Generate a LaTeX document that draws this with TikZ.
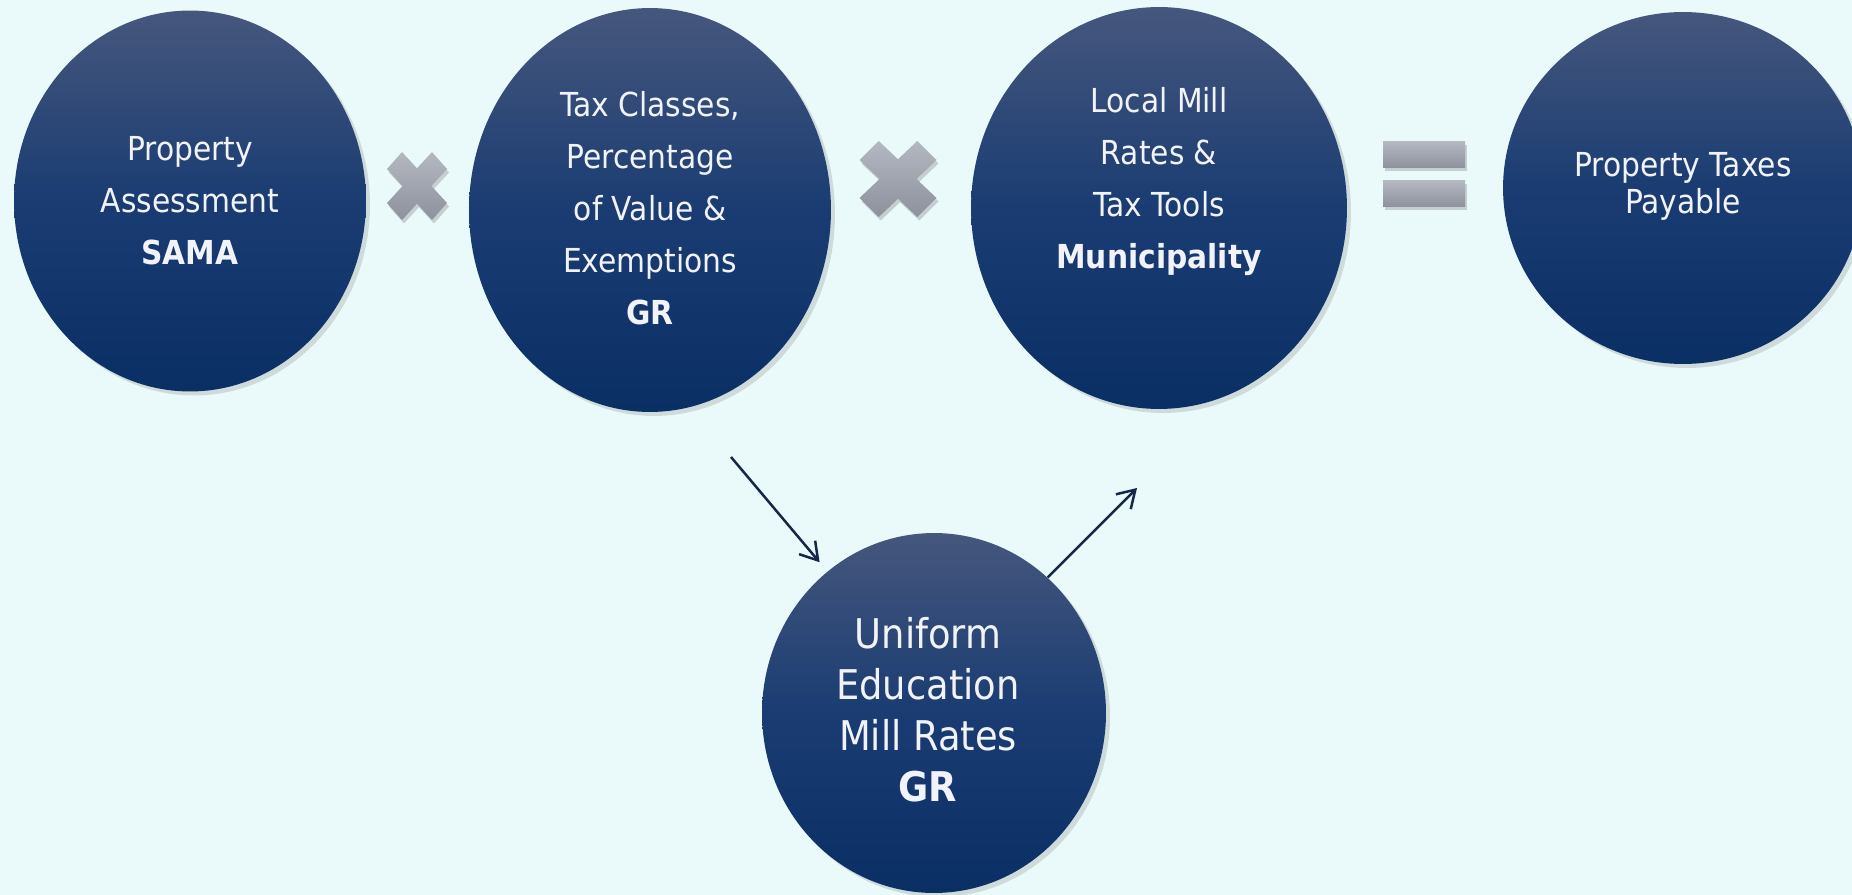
\documentclass[tikz,border=0pt]{standalone}
\usepackage{fontspec}
\setmainfont{DejaVu Sans}[FakeStretch=0.9]
\usetikzlibrary{shapes.geometric,shadows,arrows.meta}

\definecolor{bgcyan}{RGB}{234,250,250}
\definecolor{ovaltop}{RGB}{70,87,125}
\definecolor{ovalmid}{RGB}{26,60,114}
\definecolor{ovalbot}{RGB}{10,47,101}
\definecolor{signtop}{RGB}{180,184,193}
\definecolor{signbot}{RGB}{140,145,156}
\definecolor{arrowblue}{RGB}{22,38,72}
\definecolor{txtwhite}{RGB}{242,243,248}

\tikzset{
  oval/.style={ellipse, inner sep=0pt, top color=ovaltop, bottom color=ovalbot, middle color=ovalmid,
    drop shadow={shadow xshift=0.08cm, shadow yshift=-0.08cm, opacity=0.25}},
  ovaltext/.style={text=txtwhite, align=center, inner sep=0pt, font=\fontsize{18.8}{29.6}\selectfont},
  sign/.style={top color=signtop, bottom color=signbot,
    drop shadow={shadow xshift=0.04cm, shadow yshift=-0.07cm, opacity=0.35}},
  flow/.style={draw=arrowblue, line width=0.05cm, -{Straight Barb[length=0.34cm,width=0.42cm]}}
}

% times sign: centre x, centre y, width, height
\newcommand\xsign[4]{%
  \path[sign] ({#1-.5*#3},{#2-.25*#4}) -- ({#1-.25*#3},{#2-.5*#4}) -- ({#1},{#2-.26*#4})
    -- ({#1+.25*#3},{#2-.5*#4}) -- ({#1+.5*#3},{#2-.25*#4}) -- ({#1+.24*#3},{#2})
    -- ({#1+.5*#3},{#2+.25*#4}) -- ({#1+.25*#3},{#2+.5*#4}) -- ({#1},{#2+.26*#4})
    -- ({#1-.25*#3},{#2+.5*#4}) -- ({#1-.5*#3},{#2+.25*#4}) -- ({#1-.24*#3},{#2}) -- cycle;}

\begin{document}
\begin{tikzpicture}[x=0.02cm, y=-0.02cm]

	\useasboundingbox (0,0) rectangle (1852,895);
	\clip (0,0) rectangle (1852,895);
	\fill[bgcyan] (0,0) rectangle (1852,895);

	% the four factors of the top row
	\node[oval, minimum width=7.04cm, minimum height=7.62cm] (sama) at (190,201) {};
	\node[oval, minimum width=7.24cm, minimum height=8.08cm] (classes) at (650,210) {};
	\node[oval, minimum width=7.52cm, minimum height=8.04cm] (rates) at (1159,208) {};
	\node[oval, minimum width=7.2cm, minimum height=7.04cm] (payable) at (1683,188) {};

	\node[ovaltext] (samatxt) at (190,201) {Property\\Assessment\\\textbf{SAMA}};
	\node[ovaltext] (classestxt) at (650,208) {Tax Classes,\\Percentage\\of Value \&\\Exemptions\\\textbf{GR}};
	\node[ovaltext] (ratestxt) at (1159,182) {Local Mill\\Rates \&\\Tax Tools\\\textbf{Municipality}};
	\node[ovaltext, font=\fontsize{18.8}{21}\selectfont] (payabletxt) at (1683,186) {Property Taxes\\Payable};

	% operators
	\xsign{417}{186}{60}{68}
	\xsign{898}{179}{77}{76}
	\path[sign] (1383,142) rectangle (1465,168);
	\path[sign] (1383,181) rectangle (1465,207);

	% education mill rate below
	\node[oval, minimum width=6.88cm, minimum height=7.2cm] (edu) at (934,713) {};
	\node[ovaltext, font=\fontsize{23.3}{29}\selectfont] (edutxt) at (928,710) {Uniform\\Education\\Mill Rates\\\textbf{GR}};

	\coordinate (in1) at (731,457);
	\coordinate (out1) at (1137,488);
	\draw[flow, shorten >=0.24cm] (in1) -- (edu.127);
	\draw[flow] (edu.50) -- (out1);

\end{tikzpicture}
\end{document}
